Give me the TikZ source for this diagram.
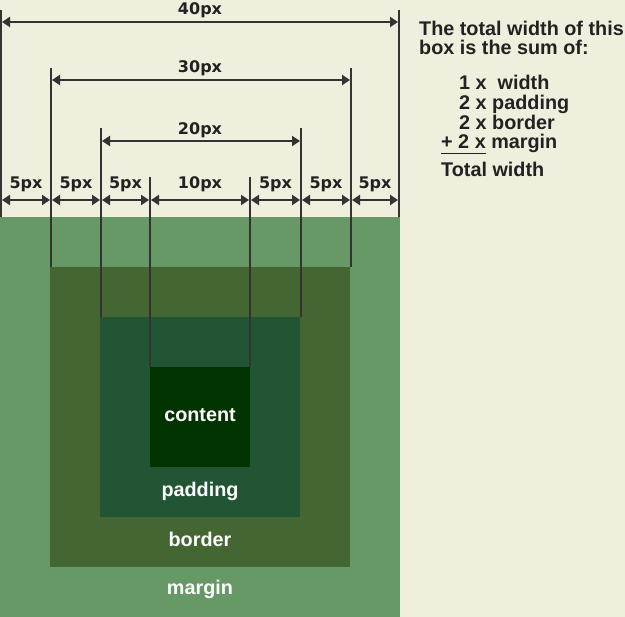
\documentclass[tikz,border=0pt]{standalone}
\usepackage{fontspec}
\setmainfont{Liberation Sans}
\newfontfamily\dimfont{DejaVu Sans}
\usetikzlibrary{arrows.meta}
\definecolor{bg}{HTML}{F0EEDC}
\definecolor{marginc}{HTML}{669966}
\definecolor{borderc}{HTML}{446633}
\definecolor{paddingc}{HTML}{225533}
\definecolor{contentc}{HTML}{003300}
\definecolor{ink}{HTML}{333333}
\definecolor{txt}{HTML}{222222}
\begin{document}
\begin{tikzpicture}[x=1pt,y=-1pt,
  ext/.style={draw=ink,line width=2pt},
  dimline/.style={draw=ink,line width=2pt,{Triangle[length=8pt,width=10pt]}-{Triangle[length=8pt,width=10pt]}},
  dimlabel/.style={anchor=base,inner sep=0pt,text=txt,font=\dimfont\bfseries\fontsize{16}{19}\selectfont},
  boxlabel/.style={anchor=base,inner sep=0pt,text=white,font=\bfseries\fontsize{19.8}{22}\selectfont},
  note/.style={anchor=base west,inner sep=0pt,text=txt,font=\bfseries\fontsize{19.8}{22}\selectfont},
  layer/.style={anchor=north west,inner sep=0pt,outer sep=0pt,draw=none}
]
% background and bounding box
\fill[bg] (0,0) rectangle (625,617);
\useasboundingbox (0,0) rectangle (625,617);

% nested boxes
\node[layer,fill=marginc,minimum width=400pt,minimum height=400pt] (margin) at (0,217) {};
\node[layer,fill=borderc,minimum width=300pt,minimum height=300pt] (border) at (50,267) {};
\node[layer,fill=paddingc,minimum width=200pt,minimum height=200pt] (padding) at (100,317) {};
\node[layer,fill=contentc,minimum width=100pt,minimum height=100pt] (content) at (150,367) {};

% box labels
\node[boxlabel] (lcontent) at (200,422) {content};
\node[boxlabel] (lpadding) at (200,497) {padding};
\node[boxlabel] (lborder) at (200,547) {border};
\node[boxlabel] (lmargin) at (200,595) {margin};

% extension lines: top and bottom coordinates
\coordinate (v1t) at (1,10);    \coordinate (v1b) at (1,217);
\coordinate (v2t) at (51,68);   \coordinate (v2b) at (51,267);
\coordinate (v3t) at (101,128); \coordinate (v3b) at (101,317);
\coordinate (v4t) at (150,177); \coordinate (v4b) at (150,367);
\coordinate (v5t) at (250,177); \coordinate (v5b) at (250,367);
\coordinate (v6t) at (301,128); \coordinate (v6b) at (301,317);
\coordinate (v7t) at (351,68);  \coordinate (v7b) at (351,267);
\coordinate (v8t) at (399,10);  \coordinate (v8b) at (399,217);
\foreach \i in {1,...,8} {\draw[ext] (v\i t) -- (v\i b);}

% overall dimensions
\coordinate (d40a) at (2,22);   \coordinate (d40b) at (398,22);
\coordinate (d30a) at (52,80);  \coordinate (d30b) at (350,80);
\coordinate (d20a) at (102,141);\coordinate (d20b) at (300,141);
\draw[dimline] (d40a) -- (d40b);
\draw[dimline] (d30a) -- (d30b);
\draw[dimline] (d20a) -- (d20b);
\node[dimlabel] (l40) at (200,15) {40px};
\node[dimlabel] (l30) at (200,73) {30px};
\node[dimlabel] (l20) at (200,135) {20px};

% segment row
\coordinate (s0) at (2,200);
\coordinate (s1a) at (50,200);  \coordinate (s1b) at (52,200);
\coordinate (s2a) at (100,200); \coordinate (s2b) at (102,200);
\coordinate (s3a) at (149,200); \coordinate (s3b) at (151,200);
\coordinate (s4a) at (249,200); \coordinate (s4b) at (251,200);
\coordinate (s5a) at (300,200); \coordinate (s5b) at (302,200);
\coordinate (s6a) at (350,200); \coordinate (s6b) at (352,200);
\coordinate (s7) at (398,200);
\draw[dimline] (s0) -- (s1a);
\draw[dimline] (s1b) -- (s2a);
\draw[dimline] (s2b) -- (s3a);
\draw[dimline] (s3b) -- (s4a);
\draw[dimline] (s4b) -- (s5a);
\draw[dimline] (s5b) -- (s6a);
\draw[dimline] (s6b) -- (s7);
\node[dimlabel] (ls1) at (26,189) {5px};
\node[dimlabel] (ls2) at (76,189) {5px};
\node[dimlabel] (ls3) at (125.5,189) {5px};
\node[dimlabel] (ls4) at (200,189) {10px};
\node[dimlabel] (ls5) at (275.5,189) {5px};
\node[dimlabel] (ls6) at (326,189) {5px};
\node[dimlabel] (ls7) at (375,189) {5px};

% explanatory note
\node[note] (n1) at (419,35.3) {The total width of this};
\node[note] (n2) at (419,54.5) {box is the sum of:};
\node[note] (n3) at (459,89.3) {1 x\ \ width};
\node[note] (n4) at (459,109.3) {2 x padding};
\node[note] (n5) at (459,129.3) {2 x border};
\node[note] (n6) at (441,149) {+ 2 x margin};
\coordinate (u1) at (441,153.2); \coordinate (u2) at (486,153.2);
\draw[draw=txt,line width=1.2pt] (u1) -- (u2);
\node[note] (n7) at (441,176.7) {Total width};
\end{tikzpicture}
\end{document}
